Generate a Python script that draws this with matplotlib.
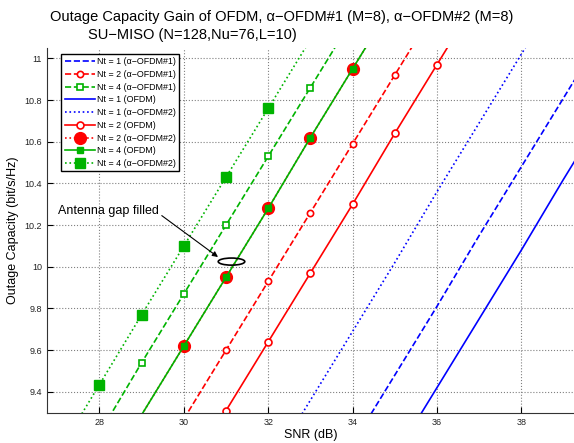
import matplotlib.pyplot as plt
from matplotlib.patches import Ellipse

plt.rcParams['font.family'] = ['Liberation Sans', 'DejaVu Sans']

## Data (SNR in dB, outage capacity in bit/s/Hz)
snr_b1 = [34, 35, 36, 37, 38, 39, 40]
cap_b1 = [9.15, 9.48, 9.81, 10.15, 10.48, 10.81, 11.14]      # Nt=1 a-OFDM#1
snr_r1 = [30, 31, 32, 33, 34, 35, 36]
cap_r1 = [9.27, 9.60, 9.93, 10.26, 10.59, 10.92, 11.25]      # Nt=2 a-OFDM#1
snr_g1 = [28, 29, 30, 31, 32, 33, 34]
cap_g1 = [9.20, 9.54, 9.87, 10.20, 10.53, 10.86, 11.19]      # Nt=4 a-OFDM#1
snr_b0 = [35, 36, 37, 38, 39, 40]
cap_b0 = [9.09, 9.42, 9.75, 10.08, 10.42, 10.75]             # Nt=1 OFDM
snr_b2 = [32, 33, 34, 35, 36, 37, 38, 39]
cap_b2 = [9.03, 9.36, 9.69, 10.02, 10.36, 10.69, 11.02, 11.35]  # Nt=1 a-OFDM#2
snr_r0 = [30, 31, 32, 33, 34, 35, 36, 37]
cap_r0 = [8.98, 9.31, 9.64, 9.97, 10.30, 10.64, 10.97, 11.30]   # Nt=2 OFDM
snr_r2 = [29, 30, 31, 32, 33, 34, 35]
cap_r2 = [9.29, 9.62, 9.95, 10.28, 10.62, 10.95, 11.28]      # Nt=2 a-OFDM#2
snr_g0 = [29, 30, 31, 32, 33, 34, 35]
cap_g0 = [9.29, 9.62, 9.95, 10.28, 10.62, 10.95, 11.28]      # Nt=4 OFDM
snr_g2 = [27, 28, 29, 30, 31, 32, 33]
cap_g2 = [9.10, 9.435, 9.77, 10.10, 10.43, 10.76, 11.09]     # Nt=4 a-OFDM#2

xticks = [28, 30, 32, 34, 36, 38]
yticks = [9.4, 9.6, 9.8, 10, 10.2, 10.4, 10.6, 10.8, 11]

green = (0.0, 0.7, 0.0)

fig = plt.figure(figsize=(5.74, 4.43), dpi=100)
ax = fig.add_axes([0.0814, 0.0684, 0.9187, 0.8233])

lw = 1.2
ax.plot(snr_b1, cap_b1, '--', color='b', lw=lw, label=u'Nt = 1 (\u03b1\u2212OFDM#1)')
ax.plot(snr_r1, cap_r1, '--', color='r', lw=lw, marker='o', ms=4.5, mfc='white', mec='r',
        mew=1.2, label=u'Nt = 2 (\u03b1\u2212OFDM#1)')
ax.plot(snr_g1, cap_g1, '--', color=green, lw=lw, marker='s', ms=4, mfc='white', mec=green,
        mew=1.2, label=u'Nt = 4 (\u03b1\u2212OFDM#1)')
ax.plot(snr_b0, cap_b0, '-', color='b', lw=lw, label='Nt = 1 (OFDM)')
ax.plot(snr_b2, cap_b2, ':', color='b', lw=lw, label=u'Nt = 1 (\u03b1\u2212OFDM#2)')
ax.plot(snr_r0, cap_r0, '-', color='r', lw=lw, marker='o', ms=5, mfc='white', mec='r',
        mew=1.2, label='Nt = 2 (OFDM)')
ax.plot(snr_r2, cap_r2, ':', color='r', lw=lw, marker='o', ms=8.5, mfc='r', mec='r',
        markevery=slice(1, None), label=u'Nt = 2 (\u03b1\u2212OFDM#2)')
ax.plot(snr_g0, cap_g0, '-', color=green, lw=lw, marker='s', ms=4.5, mfc=green, mec=green,
        markevery=slice(1, None), label='Nt = 4 (OFDM)')
ax.plot(snr_g2, cap_g2, ':', color=green, lw=lw, marker='s', ms=7, mfc=green, mec=green,
        label=u'Nt = 4 (\u03b1\u2212OFDM#2)')

# antenna gap annotation
ax.add_patch(Ellipse((31.13, 10.025), 0.63, 0.034, fill=False, ec='k', lw=1.2, zorder=5))
ax.annotate('Antenna gap filled', xy=(30.81, 10.047), xytext=(27.02, 10.267),
            fontsize=9, va='center', ha='left',
            arrowprops=dict(arrowstyle='-|>', color='k', lw=0.8, mutation_scale=8,
                            shrinkA=0, shrinkB=0, relpos=(1.0, 0.3)))

ax.set_xlim(26.75, 39.25)
ax.set_ylim(9.3, 11.05)
ax.set_xticks(xticks)
ax.set_yticks(yticks)
ax.set_yticklabels(['9.4', '9.6', '9.8', '10', '10.2', '10.4', '10.6', '10.8', '11'])
ax.tick_params(direction='in', length=4, labelsize=6.5, width=0.8, labelcolor='#222222')
ax.grid(True, linestyle=':', color='gray', linewidth=0.8)
ax.spines['top'].set_visible(False)
ax.spines['right'].set_visible(False)
ax.spines['left'].set_color('#333333')
ax.spines['bottom'].set_color('#333333')

ax.set_xlabel('SNR (dB)', fontsize=9, labelpad=2)
ax.set_ylabel('Outage Capacity (bit/s/Hz)', fontsize=9, labelpad=4)

leg = ax.legend(loc='upper left', bbox_to_anchor=(0.028, 0.983), fontsize=6.4,
                fancybox=False, framealpha=1, edgecolor='k', handlelength=3.4,
                borderpad=0.35, labelspacing=0.42, handletextpad=0.3, borderaxespad=0)
leg.get_frame().set_linewidth(1.0)

fig.text(0.49, 0.962, u'Outage Capacity Gain of OFDM, \u03b1\u2212OFDM#1 (M=8), \u03b1\u2212OFDM#2 (M=8)',
         ha='center', va='center', fontsize=10.5)
fig.text(0.335, 0.921, u'SU\u2212MISO (N=128,Nu=76,L=10)', ha='center', va='center', fontsize=10.5)

plt.savefig('out.png', dpi=100)
